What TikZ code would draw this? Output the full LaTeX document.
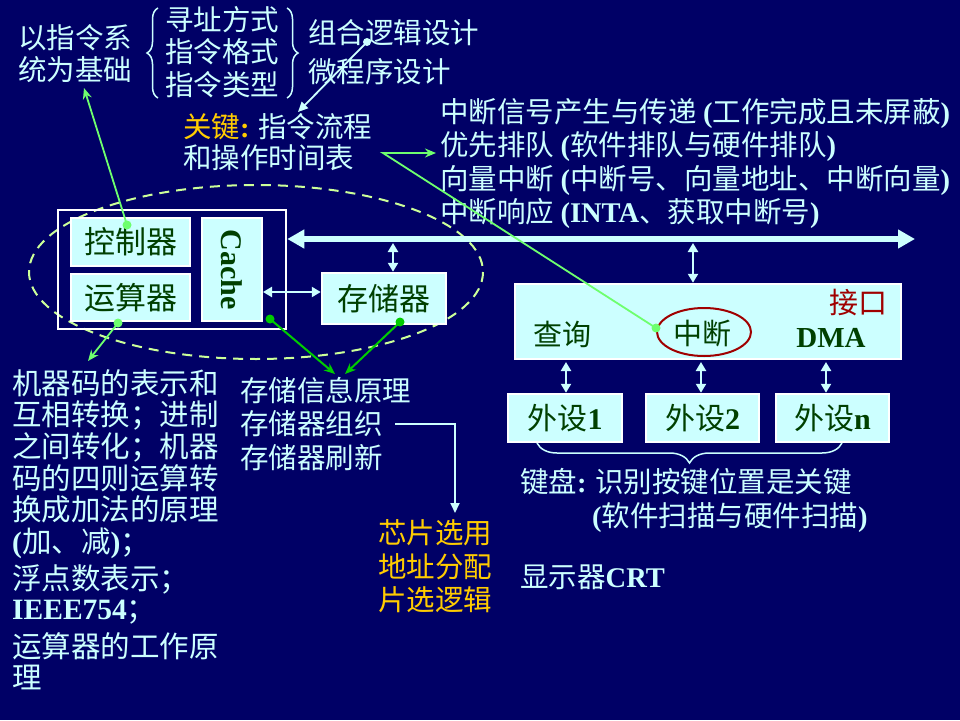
\documentclass[tikz,border=0pt]{standalone}
\usepackage{fontspec}
\setmainfont{Noto Sans CJK SC}
\newfontfamily\tnr{Liberation Serif}
\usetikzlibrary{arrows.meta,decorations.pathreplacing}
\definecolor{bg}{RGB}{0,0,102}
\definecolor{lc}{RGB}{204,255,255}
\definecolor{dg}{RGB}{0,64,0}
\definecolor{og}{RGB}{255,204,0}
\definecolor{ely}{RGB}{204,255,153}
\definecolor{lg}{RGB}{110,255,110}
\definecolor{mg}{RGB}{0,204,0}
\definecolor{rd}{RGB}{160,0,0}
\newcommand\lt[1]{{\tnr\bfseries #1}}
\newcommand\fs[1]{\fontsize{#1}{#1}\selectfont}
\begin{document}
\begin{tikzpicture}[x=1pt,y=-1pt,
  txt/.style={anchor=west,inner sep=0pt,text height=23.7pt,text depth=2pt,text=lc,font=\fs{28.5}},
  ltxt/.style={txt,font=\fs{29.5},text height=24.5pt,text depth=2.1pt},
  otxt/.style={txt,text=og},
  box/.style={draw=white,line width=2.5pt,fill=lc,inner sep=0pt,text=dg,font=\fs{31}},
  itxt/.style={inner sep=0pt,text height=24.1pt,text depth=2pt,text=dg,font=\fs{29}},
  dbl/.style={lc,line width=2.5pt,{Triangle[length=9pt,width=10pt]}-{Triangle[length=9pt,width=10pt]}},
  wline/.style={lc,line width=1.8pt,-{Triangle[length=10pt,width=9pt]}},
  gline/.style={lg,line width=1.8pt,-{Stealth[length=11pt,width=9pt]}},
  mline/.style={mg,line width=2pt,-{Stealth[length=11pt,width=9pt]}},
  bracestyle/.style={lc,line width=1.5pt,decorate},
]
\fill[bg] (0,0) rectangle (960,720);
\useasboundingbox (0,0) rectangle (960,720);

% ---------- top left text ----------
\node[txt] (t1) at (18,38) {以指令系};
\node[txt] (t2) at (18,70) {统为基础};
\node[txt] (a1) at (165,20) {寻址方式};
\node[txt] (a2) at (165,52) {指令格式};
\node[txt] (a3) at (165,85) {指令类型};
\draw[bracestyle,decoration={brace,amplitude=11pt,aspect=0.5}] (158,98) -- (158,8);
\draw[bracestyle,decoration={brace,amplitude=11pt,aspect=0.5}] (287,8) -- (287,98);
\node[txt] (d1) at (308,33) {组合逻辑设计};
\node[txt] (d2) at (308,72) {微程序设计};
\node[txt] (k1) at (183,127) {{\color{og}关键\lt{:}} 指令流程};
\node[txt] (k2) at (183,158) {和操作时间表};

% ---------- right interrupt text ----------
\node[txt] (r1) at (440,112) {中断信号产生与传递 \lt{(}工作完成且未屏蔽\lt{)}};
\node[txt] (r2) at (440,145) {优先排队 \lt{(}软件排队与硬件排队\lt{)}};
\node[txt] (r3) at (440,179) {向量中断 \lt{(}中断号、向量地址、中断向量\lt{)}};
\node[txt] (r4) at (440,212) {中断响应 \lt{(INTA}、获取中断号\lt{)}};

% ---------- dashed ellipse ----------
\draw[ely,line width=2pt,dash pattern=on 10pt off 7pt] (256,272) ellipse [x radius=227, y radius=87];

% ---------- CPU ----------
\node[draw=white,line width=2.5pt,minimum width=228pt,minimum height=119pt,inner sep=0pt] (cpu) at (172,269.5) {};
\node[box,minimum width=119pt,minimum height=48pt] (ctrl) at (130.5,242) {控制器};
\node[box,minimum width=119pt,minimum height=47pt] (alu) at (130.5,297.5) {运算器};
\node[box,minimum width=60pt,minimum height=103pt] (cache) at (232,269.5) {};
\node[rotate=-90,text=dg,font=\fs{30}\tnr\bfseries,inner sep=0pt] (cachet) at (cache.center) {Cache};
\node[box,minimum width=124pt,minimum height=51pt] (mem) at (384,298.5) {存储器};

% ---------- bus ----------
\coordinate (busR) at (915,239);
\draw[lc,line width=6pt,{Triangle[length=17pt,width=18pt]}-{Triangle[length=17pt,width=18pt]}] (cpu.east |- busR) -- (busR);
\coordinate (bm) at (393,243);
\draw[dbl] (bm) -- (bm |- mem.north);
\coordinate (cm) at (263,292);
\draw[dbl] (cm) -- (cm -| mem.west);

% ---------- interface ----------
\node[box,minimum width=386pt,minimum height=75pt] (intf) at (708,321.5) {};
\coordinate (bi) at (693,243);
\draw[dbl] (bi) -- (bi |- intf.north);
\node[itxt,text=rd] (jk) at (858,302) {接口};
\node[itxt] (cx) at (562,334) {查询};
\node[itxt] (zd) at (702,333) {中断};
\draw[rd,line width=2pt] (704,332) ellipse [x radius=47, y radius=24];
\node[itxt,font=\fs{29}\tnr\bfseries] (dma) at (831,336) {DMA};

\node[box,minimum width=114pt,minimum height=48pt,font=\fs{30}] (p1) at (565,418) {外设\lt{1}};
\node[box,minimum width=113pt,minimum height=48pt,font=\fs{30}] (p2) at (702.5,418) {外设\lt{2}};
\node[box,minimum width=113pt,minimum height=48pt,font=\fs{30}] (pn) at (832.5,418) {外设\lt{n}};
\coordinate (q1) at (566,362);
\coordinate (q2) at (701,362);
\coordinate (q3) at (826,362);
\draw[dbl] (q1) -- (q1 |- p1.north);
\draw[dbl] (q2) -- (q2 |- p2.north);
\draw[dbl] (q3) -- (q3 |- pn.north);
\draw[bracestyle,decoration={brace,mirror,amplitude=20pt,aspect=0.5}] (537,443) -- (842,443);
\node[txt] (kb1) at (520,482) {键盘\lt{:} 识别按键位置是关键};
\node[txt] (kb2) at (592,516) {\lt{(}软件扫描与硬件扫描\lt{)}};
\node[txt] (crt) at (520,577) {显示器\lt{CRT}};

% ---------- bottom left ----------
\node[ltxt] (b1) at (12,383) {机器码的表示和};
\node[ltxt] (b2) at (12,414) {互相转换；进制};
\node[ltxt] (b3) at (12,446) {之间转化；机器};
\node[ltxt] (b4) at (12,478) {码的四则运算转};
\node[ltxt] (b5) at (12,509) {换成加法的原理};
\node[ltxt] (b6) at (12,541) {\lt{(}加、减\lt{)}；};
\node[ltxt] (b7) at (12,578) {浮点数表示；};
\node[ltxt] (b8) at (12,608) {\lt{IEEE754}；};
\node[ltxt] (b9) at (12,646) {运算器的工作原};
\node[ltxt] (b10) at (12,677) {理};

% ---------- memory text ----------
\node[txt] (m1) at (240,391) {存储信息原理};
\node[txt] (m2) at (240,424) {存储器组织};
\node[txt] (m3) at (240,458) {存储器刷新};
\node[otxt] (o1) at (378,533) {芯片选用};
\node[otxt] (o2) at (378,567) {地址分配};
\node[otxt] (o3) at (378,600) {片选逻辑};
\coordinate (e1) at (395,424);
\coordinate (e2) at (455,513);
\draw[wline] (e1) -| (e2);

% ---------- connectors ----------
\coordinate (wd) at (367,42);
\coordinate (wt) at (298,112);
\draw[wline] (wd) -- (wt);
\fill[lc] (wd) circle (4pt);

\coordinate (cd) at (127,225);
\coordinate (ct) at (84,88);
\draw[gline] (cd) -- (ct);
\fill[lg] (cd) circle (4.5pt);

\coordinate (ad) at (118,323);
\coordinate (at2) at (88,361);
\draw[gline] (ad) -- (at2);
\fill[lg] (ad) circle (4.5pt);

\coordinate (zdot) at (656,328);
\coordinate (zk) at (383,153);
\coordinate (zt) at (436,153);
\draw[gline] (zdot) -- (zk) -- (zt);
\fill[lg] (zdot) circle (4.5pt);

\coordinate (md1) at (270,319);
\coordinate (md2) at (400,322);
\coordinate (mt1) at (335,374);
\coordinate (mt2) at (345,374);
\draw[mline] (md1) -- (mt1);
\draw[mline] (md2) -- (mt2);
\fill[mg] (md1) circle (4.5pt);
\fill[mg] (md2) circle (4.5pt);
\end{tikzpicture}
\end{document}
